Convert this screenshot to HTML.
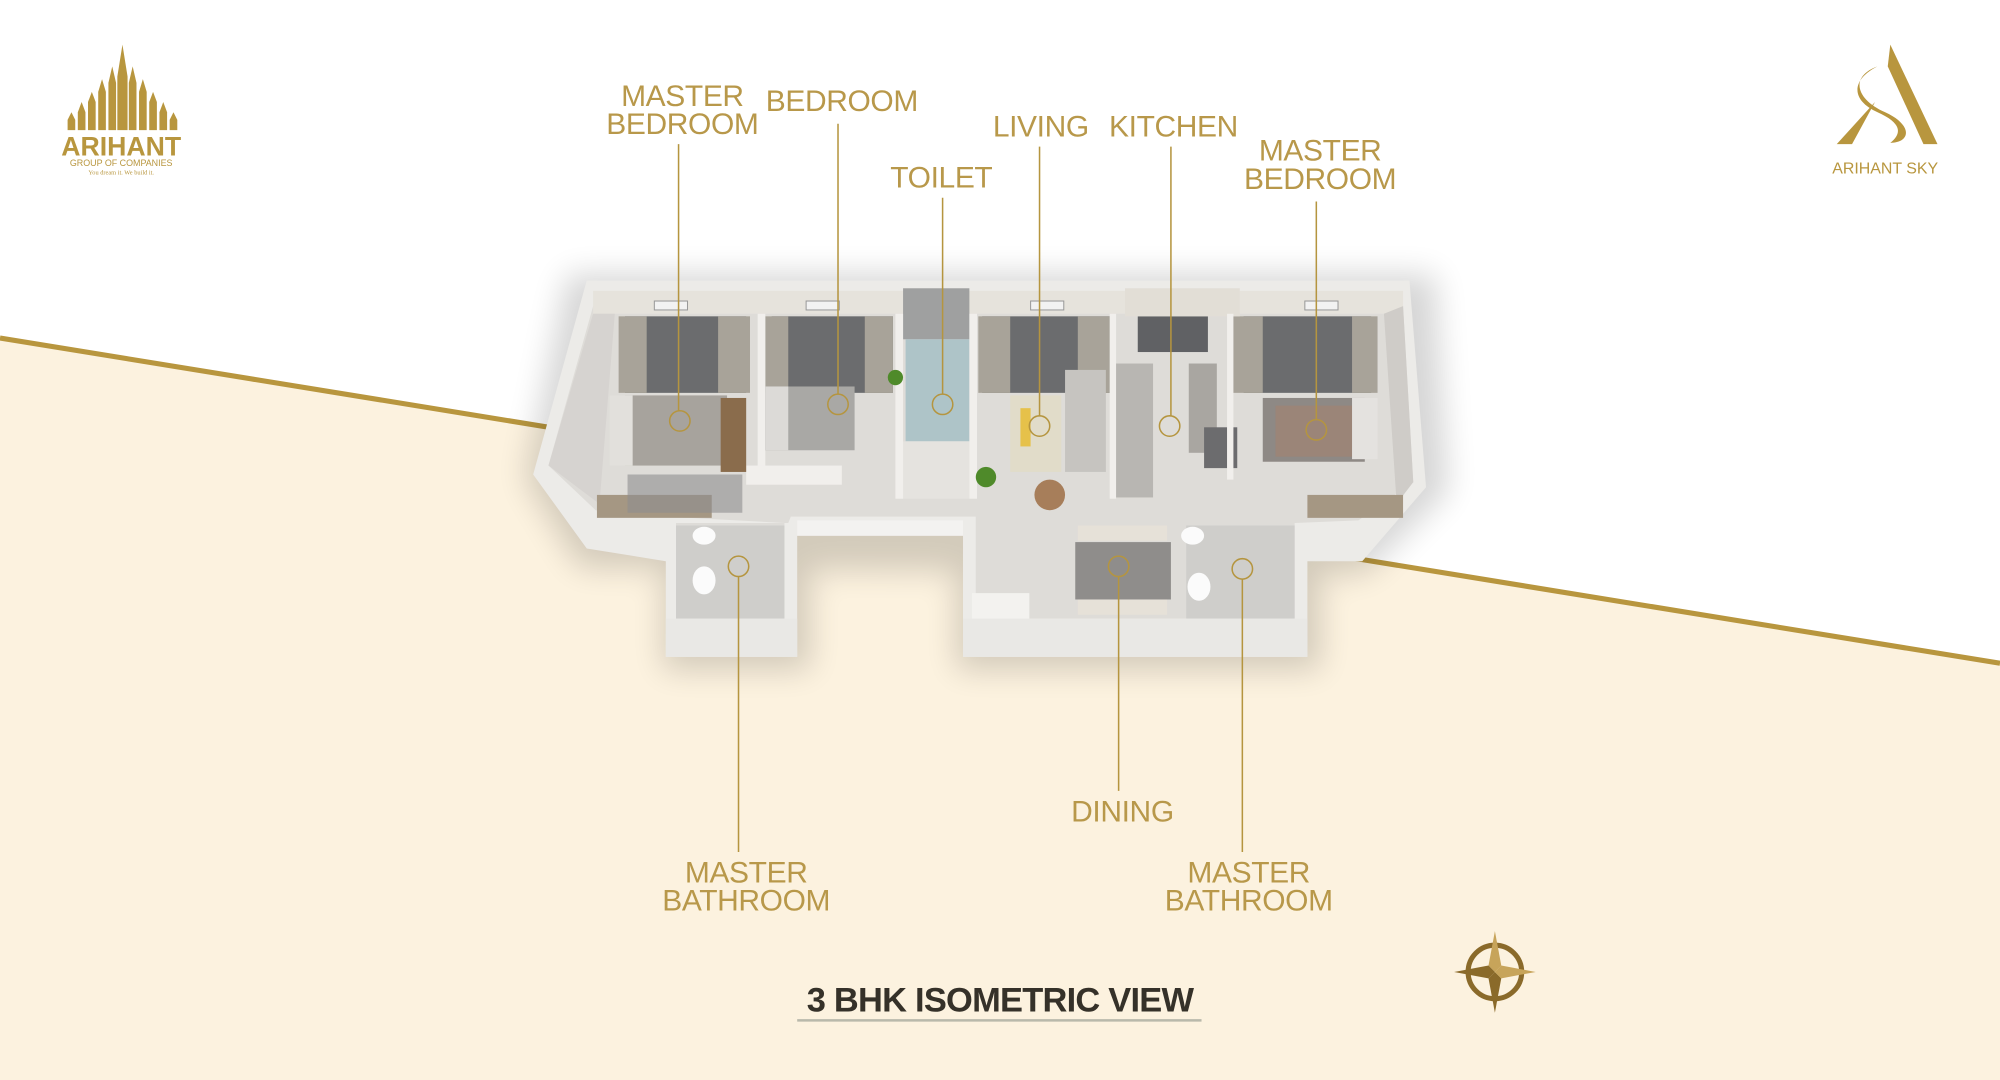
<!DOCTYPE html>
<html><head><meta charset="utf-8">
<style>
html,body{margin:0;padding:0;width:2000px;height:1080px;overflow:hidden;background:#fff;}
#w{position:absolute;left:0;top:0;width:1568px;height:847px;transform:scale(1.27551);transform-origin:0 0;}
.t{position:absolute;font-family:"Liberation Sans",sans-serif;color:#b8984a;font-size:23.5px;line-height:22px;text-align:center;white-space:nowrap;transform:translateX(-50%);letter-spacing:-0.3px;}
</style></head><body>
<div id="w">
<svg width="1568" height="847" viewBox="0 0 1568 847" style="position:absolute;left:0;top:0">
<defs>
<filter id="bl" x="-20%" y="-20%" width="140%" height="140%"><feGaussianBlur stdDeviation="12"/></filter>
</defs>
<polygon points="0,265 1568,520 1568,847 0,847" fill="#fcf2df"/>
<line x1="0" y1="265" x2="1568" y2="520" stroke="#b8963e" stroke-width="4"/>
<!-- shadow -->
<g opacity="0.16" filter="url(#bl)">
<polygon points="445,215 1125,215 1135,385 1070,450 455,445 412,375" fill="#000"/>
<rect x="520" y="430" width="115" height="95" fill="#000"/>
<rect x="750" y="430" width="285" height="95" fill="#000"/>
</g>
<!-- building outer walls -->
<polygon points="460,220 1105,220 1118,382 1068,440 1025,440 1025,515 755,515 755,420 625,420 625,515 522,515 522,440 460,430 418,372" fill="#ecebe8"/>
<!-- floor -->
<polygon points="465,240 1100,240 1108,378 1065,408 1015,410 1015,485 765,485 765,405 620,405 618,410 530,410 530,485 615,485 615,410 522,405 467,400 430,365" fill="#dedcd8"/>
<polygon points="530,412 615,412 615,485 530,485" fill="#cfcecb"/>
<polygon points="930,412 1015,412 1015,485 930,485" fill="#cfcecb"/>
<rect x="465" y="228" width="635" height="18" fill="#e6e3dc"/>
<polygon points="465,246 482,246 470,395 430,365" fill="#d6d3d0"/>
<polygon points="1085,246 1100,240 1108,378 1095,395" fill="#cfccc8"/>
<rect x="490" y="248" width="95" height="60" fill="#6b6c6e"/>
<rect x="605" y="248" width="95" height="60" fill="#6b6c6e"/>
<rect x="770" y="248" width="100" height="60" fill="#6b6c6e"/>
<rect x="892" y="248" width="55" height="28" fill="#606164"/>
<rect x="975" y="248" width="100" height="60" fill="#6b6c6e"/>
<g fill="#a8a399">
<rect x="485" y="248" width="22" height="60"/><rect x="563" y="248" width="25" height="60"/>
<rect x="600" y="248" width="18" height="60"/><rect x="678" y="248" width="22" height="60"/>
<rect x="767" y="248" width="25" height="60"/><rect x="845" y="248" width="25" height="60"/>
<rect x="965" y="248" width="25" height="60"/><rect x="1060" y="248" width="20" height="60"/>
</g>
<g fill="#f2f2f2" stroke="#999" stroke-width="0.8">
<rect x="513" y="236" width="26" height="7"/><rect x="632" y="236" width="26" height="7"/>
<rect x="808" y="236" width="26" height="7"/><rect x="1023" y="236" width="26" height="7"/>
</g>
<rect x="708" y="226" width="52" height="40" fill="#9fa0a0"/>
<rect x="710" y="266" width="50" height="80" fill="#aec4c8"/>
<rect x="705" y="346" width="55" height="45" fill="#e5e3df"/>
<rect x="882" y="226" width="90" height="22" fill="#e2ded6"/>
<rect x="874" y="285" width="30" height="105" fill="#b8b6b2"/>
<rect x="932" y="285" width="22" height="70" fill="#a9a6a1"/>
<rect x="944" y="335" width="26" height="32" fill="#6c6c6e"/>
<g fill="#f1efec">
<rect x="594" y="246" width="6" height="130"/>
<rect x="702" y="246" width="6" height="145"/>
<rect x="760" y="246" width="6" height="145"/>
<rect x="870" y="246" width="5" height="145"/>
<rect x="962" y="246" width="5" height="130"/>
<rect x="585" y="365" width="75" height="15"/>
</g>
<rect x="490" y="310" width="80" height="55" fill="#a7a39d"/>
<rect x="478" y="310" width="18" height="55" fill="#e2e0dc"/>
<rect x="565" y="312" width="20" height="58" fill="#8a6c4c"/>
<rect x="600" y="303" width="70" height="50" fill="#a9a8a5"/>
<rect x="600" y="303" width="18" height="50" fill="#dcdad7"/>
<rect x="990" y="312" width="80" height="50" fill="#8e8985"/>
<rect x="1000" y="318" width="60" height="40" fill="#9b8578"/>
<rect x="1060" y="312" width="20" height="48" fill="#e4e2df"/>
<rect x="792" y="310" width="40" height="60" fill="#e1dcc9"/>
<rect x="800" y="320" width="8" height="30" fill="#e6c14a"/>
<rect x="835" y="290" width="32" height="80" fill="#c6c4c0"/>
<circle cx="823" cy="388" r="12" fill="#a77e5a"/>
<rect x="468" y="388" width="90" height="18" fill="#a59783"/>
<rect x="1025" y="388" width="75" height="18" fill="#a59783"/>
<rect x="492" y="372" width="90" height="30" fill="#8d8d8f" opacity="0.6"/>
<rect x="843" y="425" width="75" height="45" fill="#8f8d8b"/>
<rect x="845" y="412" width="70" height="12" fill="#e6e1d8"/>
<rect x="845" y="470" width="70" height="12" fill="#e6e1d8"/>
<ellipse cx="552" cy="455" rx="9" ry="11" fill="#fbfbfb"/>
<ellipse cx="552" cy="420" rx="9" ry="7" fill="#fbfbfb"/>
<ellipse cx="940" cy="460" rx="9" ry="11" fill="#fbfbfb"/>
<ellipse cx="935" cy="420" rx="9" ry="7" fill="#fbfbfb"/>
<rect x="762" y="465" width="45" height="42" fill="#f3f2ef"/>
<circle cx="773" cy="374" r="8" fill="#4f8a2a"/>
<circle cx="702" cy="296" r="6" fill="#4f8a2a"/>
<rect x="522" y="485" width="103" height="30" fill="#e9e8e5"/>
<rect x="755" y="485" width="270" height="30" fill="#e9e8e5"/>
<rect x="625" y="408" width="130" height="12" fill="#f3f2f0"/>
<g stroke="#b5953f" stroke-width="1.2" fill="none">
<line x1="532" y1="113" x2="532" y2="322"/><circle cx="533" cy="330" r="8"/>
<line x1="657" y1="97" x2="657" y2="309"/><circle cx="657" cy="317" r="8"/>
<line x1="739" y1="155" x2="739" y2="309"/><circle cx="739" cy="317" r="8"/>
<line x1="815" y1="115" x2="815" y2="326"/><circle cx="815" cy="334" r="8"/>
<line x1="918" y1="115" x2="918" y2="326"/><circle cx="917" cy="334" r="8"/>
<line x1="1032" y1="158" x2="1032" y2="329"/><circle cx="1032" cy="337" r="8"/>
<circle cx="579" cy="444" r="8"/><line x1="579" y1="452" x2="579" y2="668"/>
<circle cx="877" cy="444" r="8"/><line x1="877" y1="452" x2="877" y2="620"/>
<circle cx="974" cy="446" r="8"/><line x1="974" y1="454" x2="974" y2="668"/>
</g>
<line x1="625" y1="800" x2="942" y2="800" stroke="#b9b9ab" stroke-width="2"/>
<g transform="translate(1172,762)">
<circle r="21" fill="none" stroke="#8a6a2a" stroke-width="4"/>
<polygon points="0,-32 5,-5 0,0 -5,-5" fill="#c7a45a"/>
<polygon points="0,32 5,5 0,0 -5,5" fill="#8a6a2a"/>
<polygon points="-32,0 -5,-5 0,0 -5,5" fill="#8a6a2a"/>
<polygon points="32,0 5,-5 0,0 5,5" fill="#c7a45a"/>
</g>
<g fill="#b8963e">
<polygon points="96,35 100,60 100,102 92,102 92,60"/>
<polygon points="88,52 91,65 91,102 85,102 85,65"/>
<polygon points="104,52 107,65 107,102 101,102 101,65"/>
<polygon points="80,62 83,72 83,102 77,102 77,72"/>
<polygon points="112,62 115,72 115,102 109,102 109,72"/>
<polygon points="72,72 75,80 75,102 69,102 69,80"/>
<polygon points="120,72 123,80 123,102 117,102 117,80"/>
<polygon points="64,80 67,88 67,102 61,102 61,88"/>
<polygon points="128,80 131,88 131,102 125,102 125,88"/>
<polygon points="56,88 59,94 59,102 53,102 53,94"/>
<polygon points="136,88 139,94 139,102 133,102 133,94"/>
</g>
<text x="95" y="122" font-family="Liberation Sans" font-weight="bold" font-size="21" fill="#b8963e" text-anchor="middle" textLength="94" lengthAdjust="spacingAndGlyphs">ARIHANT</text>
<text x="95" y="130" font-family="Liberation Sans" font-size="7" fill="#b8963e" text-anchor="middle">GROUP OF COMPANIES</text>
<text x="95" y="137" font-family="Liberation Serif" font-size="5" fill="#b8963e" text-anchor="middle">You dream it. We build it.</text>
<polygon points="1482,35 1519,113 1508,113 1480,52" fill="#b8963e"/>
<polygon points="1470,80 1440,113 1452,113" fill="#b8963e"/>
<path d="M1472,52 C1450,60 1455,78 1478,88 C1500,98 1498,112 1482,112 C1492,104 1490,96 1472,88 C1450,78 1452,62 1472,52 Z" fill="#b8963e"/>
<text x="1478" y="136" font-family="Liberation Sans" font-size="12.5" fill="#b8963e" text-anchor="middle">ARIHANT SKY</text>
</svg>
<div class="t" style="left:535px;top:64px">MASTER<br>BEDROOM</div>
<div class="t" style="left:660px;top:68px">BEDROOM</div>
<div class="t" style="left:738px;top:128px">TOILET</div>
<div class="t" style="left:816px;top:88px">LIVING</div>
<div class="t" style="left:920px;top:88px">KITCHEN</div>
<div class="t" style="left:1035px;top:107px">MASTER<br>BEDROOM</div>
<div class="t" style="left:880px;top:625px">DINING</div>
<div class="t" style="left:585px;top:673px">MASTER<br>BATHROOM</div>
<div class="t" style="left:979px;top:673px">MASTER<br>BATHROOM</div>
<div class="t" style="left:784px;top:770px;color:#353129;font-weight:bold;font-size:27px;line-height:28px;letter-spacing:-0.6px">3 BHK ISOMETRIC VIEW</div>
</div>
</body></html>
